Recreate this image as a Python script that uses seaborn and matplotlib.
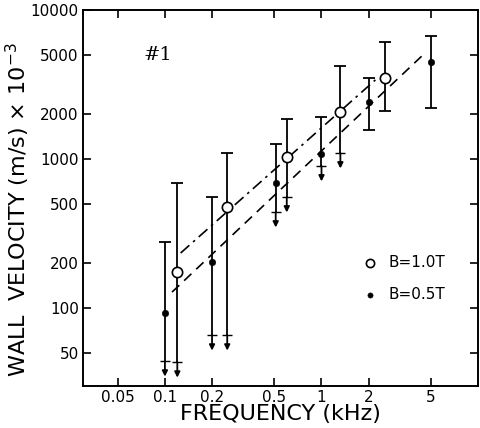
import numpy as np
import pandas as pd
import matplotlib
matplotlib.use("Agg")
import matplotlib.pyplot as plt
import seaborn as sns

# === data ===
# B = 1.0 T (open circles)
f_10 = [0.12, 0.25, 0.60, 1.32, 2.56]
v_10 = [174, 476, 1030, 2070, 3500]
hi_10 = [690, 1100, 1855, 4215, 6100]
lo_10 = [43.4, 65.9, 556, 1097, 2098]
lim_10 = [True, True, True, True, False]   # lower end is only a limit (arrow)

# B = 0.5 T (filled dots)
f_05 = [0.10, 0.20, 0.51, 1.0, 2.0, 5.0]
v_05 = [92, 203, 690, 1080, 2410, 4480]
hi_05 = [277, 556, 1260, 1912, 3500, 6700]
lo_05 = [44.1, 65.9, 441, 898, 1565, 2200]
lim_05 = [True, True, True, True, False, False]

# fit lines (end points)
fit10_f = [0.126, 2.21]
fit10_v = [234, 3390]
fit05_f = [0.111, 4.67]
fit05_v = [128, 5230]

xticks = [0.05, 0.1, 0.2, 0.5, 1, 2, 5]
xticklabels = ["0.05", "0.1", "0.2", "0.5", "1", "2", "5"]
yticks = [50, 100, 200, 500, 1000, 2000, 5000, 10000]
yticklabels = ["50", "100", "200", "500", "1000", "2000", "5000", "10000"]

sns.set_style("ticks")
plt.rcParams["font.family"] = ["DejaVu Sans"]
plt.rcParams["text.color"] = "black"
plt.rcParams["axes.labelcolor"] = "black"
plt.rcParams["xtick.color"] = "black"
plt.rcParams["ytick.color"] = "black"
plt.rcParams["axes.edgecolor"] = "black"

fig = plt.figure(figsize=(4.8, 4.28), dpi=100)
ax = fig.add_axes([0.173, 0.098, 0.823, 0.879])
ax.set_xscale("log")
ax.set_yscale("log")
ax.set_xlim(0.03, 10)
ax.set_ylim(30, 10000)

# fit lines
ax.plot(fit10_f, fit10_v, color="black", lw=1.2, ls=(0, (7, 3, 1.5, 3)))
ax.plot(fit05_f, fit05_v, color="black", lw=1.2, ls=(0, (6, 4)))


def error_bars(f, v, hi, lo, lim):
    for fi, vi, h, l, isl in zip(f, v, hi, lo, lim):
        ax.vlines(fi, l, h, color="black", lw=1.3, zorder=2)
        ax.plot(fi, h, marker="_", ms=9, mew=1.3, color="black", zorder=2)
        if isl:
            ax.plot(fi, l, marker="_", ms=7, mew=1.0, color="black", zorder=2)
            ax.annotate("", xy=(fi, l / 1.27), xytext=(fi, l),
                        arrowprops=dict(arrowstyle="-|>", color="black", lw=1.3,
                                        mutation_scale=8, shrinkA=0, shrinkB=0))
        else:
            ax.plot(fi, l, marker="_", ms=9, mew=1.3, color="black", zorder=2)


error_bars(f_10, v_10, hi_10, lo_10, lim_10)
error_bars(f_05, v_05, hi_05, lo_05, lim_05)

df10 = pd.DataFrame({"f": f_10, "v": v_10})
df05 = pd.DataFrame({"f": f_05, "v": v_05})
sns.scatterplot(data=df10, x="f", y="v", ax=ax, marker="o", s=55,
                facecolor="white", edgecolor="black", linewidth=1.2,
                zorder=3, label="B=1.0T")
sns.scatterplot(data=df05, x="f", y="v", ax=ax, marker="o", s=22,
                color="black", edgecolor="black", zorder=3, label="B=0.5T")

ax.legend(loc="center left", bbox_to_anchor=(0.668, 0.285), frameon=False,
          fontsize=11, handletextpad=0.6, labelspacing=1.1, handlelength=1.2,
          markerscale=0.8)

ax.text(0.19, 0.88, "#1", transform=ax.transAxes, fontsize=14,
        family="DejaVu Serif", ha="center", va="center")

ax.set_xticks(xticks)
ax.set_xticklabels(xticklabels)
ax.set_yticks(yticks)
ax.set_yticklabels(yticklabels)
ax.minorticks_off()
ax.tick_params(which="major", direction="in", length=6, width=1.2,
               top=True, right=True, labelsize=11, pad=3)
for s in ax.spines.values():
    s.set_linewidth(1.4)

ax.set_xlabel("FREQUENCY (kHz)", fontsize=16, labelpad=-1)
ax.set_ylabel("WALL  VELOCITY (m/s) \u00d7 10$^{-3}$", fontsize=16)
ax.yaxis.set_label_coords(-0.13, 0.47)

fig.savefig("out.png", dpi=100)
